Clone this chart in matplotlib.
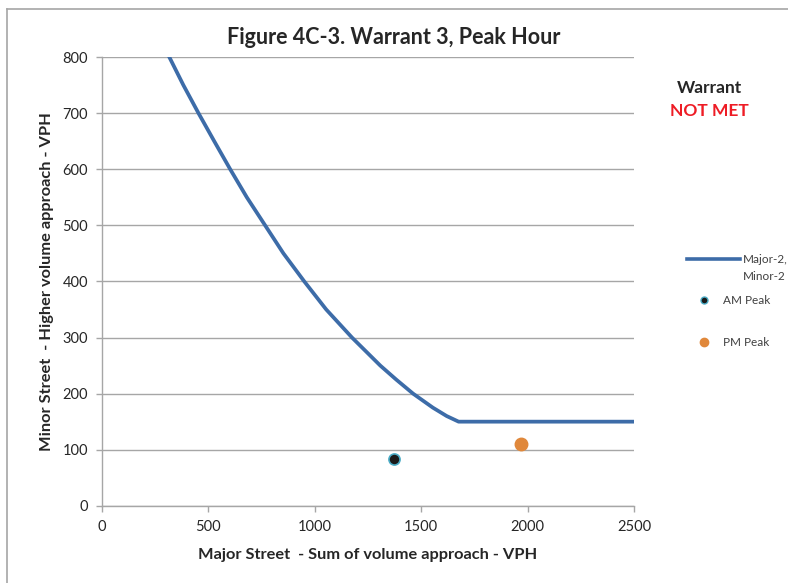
import matplotlib

matplotlib.use("Agg")
import matplotlib.pyplot as plt  # noqa: E402
from matplotlib.lines import Line2D  # noqa: E402

plt.rcParams["font.family"] = ["Lato", "DejaVu Sans"]

# Warrant 3 threshold curve (Major-2 / Minor-2 lanes)
curve_major = [317, 383, 454, 528, 603, 681, 767, 853, 951, 1054, 1175,
               1308, 1383, 1462, 1555, 1620, 1676, 2500]
curve_minor = [800, 750, 700, 650, 600, 550, 500, 450, 400, 350, 300,
               250, 225, 200, 175, 160, 150, 150]

# Observed peak-hour volumes
am_major, am_minor = [1374], [83]
pm_major, pm_minor = [1969], [111]

x_ticks = [0, 500, 1000, 1500, 2000, 2500]
y_ticks = [0, 100, 200, 300, 400, 500, 600, 700, 800]

LINE_BLUE = "#3d6ca8"
PM_ORANGE = "#e0883b"
AM_EDGE = "#4bacc6"
GRID_GRAY = "#a6a6a6"
TEXT_DARK = "#262626"

fig = plt.figure(figsize=(7.88, 5.83), dpi=100)
ax = fig.add_axes([0.1292, 0.1324, 0.8046 - 0.1292, 0.9022 - 0.1324])

ax.plot(curve_major, curve_minor, color=LINE_BLUE, linewidth=2.7,
        solid_joinstyle="round", zorder=3)
ax.plot(am_major, am_minor, linestyle="none", marker="o", markersize=8,
        markerfacecolor="#1a1a1a", markeredgecolor=AM_EDGE,
        markeredgewidth=1.2, zorder=4)
ax.plot(pm_major, pm_minor, linestyle="none", marker="o", markersize=9,
        markerfacecolor=PM_ORANGE, markeredgecolor=PM_ORANGE, zorder=4)

ax.set_xlim(0, 2500)
ax.set_ylim(0, 800)
ax.set_xticks(x_ticks)
ax.set_yticks(y_ticks)
ax.tick_params(axis="both", labelsize=10.5, colors=GRID_GRAY,
               labelcolor=TEXT_DARK, length=4, width=1, pad=6)
ax.yaxis.grid(True, color=GRID_GRAY, linewidth=1)
ax.set_axisbelow(True)
for side in ("top", "right"):
    ax.spines[side].set_visible(False)
for side in ("left", "bottom"):
    ax.spines[side].set_color(GRID_GRAY)
    ax.spines[side].set_linewidth(1)

ax.set_xlabel("Major Street  - Sum of volume approach - VPH", fontsize=11.8,
              fontweight="bold", color=TEXT_DARK, labelpad=10)
ax.set_ylabel("Minor Street  - Higher volume approach - VPH", fontsize=11.8,
              fontweight="bold", color=TEXT_DARK, labelpad=6)
fig.text(0.5, 1 - 37 / 583, "Figure 4C-3. Warrant 3, Peak Hour", ha="center",
         va="center", fontsize=15.5, fontweight="bold", color=TEXT_DARK)

# status note
fig.text(709 / 788, 1 - 88 / 583, "Warrant", ha="center", va="center",
         fontsize=12.5, fontweight="bold", color=TEXT_DARK)
fig.text(709 / 788, 1 - 111 / 583, "NOT MET", ha="center", va="center",
         fontsize=12.5, fontweight="bold", color="#ee1c25")

# legend, laid out in figure pixels
W, H = 788.0, 583.0
fig.add_artist(Line2D([687 / W, 740 / W], [1 - 259 / H, 1 - 259 / H],
                      color=LINE_BLUE, linewidth=2.6,
                      transform=fig.transFigure))
fig.text(743 / W, 1 - 259 / H, "Major-2,", ha="left", va="center",
         fontsize=8.5, color="#404040")
fig.text(743 / W, 1 - 276 / H, "Minor-2", ha="left", va="center",
         fontsize=8.5, color="#404040")
fig.add_artist(Line2D([704 / W], [1 - 300 / H], linestyle="none",
                      marker="o", markersize=5, markerfacecolor="#1a1a1a",
                      markeredgecolor=AM_EDGE, markeredgewidth=1,
                      transform=fig.transFigure))
fig.text(723 / W, 1 - 300 / H, "AM Peak", ha="left", va="center",
         fontsize=8.5, color="#404040")
fig.add_artist(Line2D([704 / W], [1 - 342 / H], linestyle="none",
                      marker="o", markersize=6, markerfacecolor=PM_ORANGE,
                      markeredgecolor=PM_ORANGE,
                      transform=fig.transFigure))
fig.text(723 / W, 1 - 342 / H, "PM Peak", ha="left", va="center",
         fontsize=8.5, color="#404040")

# chart area frame (top and left edges)
fig.add_artist(Line2D([7 / W, 1.0], [1 - 8.5 / H, 1 - 8.5 / H],
                      color=GRID_GRAY, linewidth=1.2,
                      transform=fig.transFigure))
fig.add_artist(Line2D([7 / W, 7 / W], [0.0, 1 - 8.5 / H],
                      color=GRID_GRAY, linewidth=1.2,
                      transform=fig.transFigure))

fig.savefig("out.png", dpi=100)
